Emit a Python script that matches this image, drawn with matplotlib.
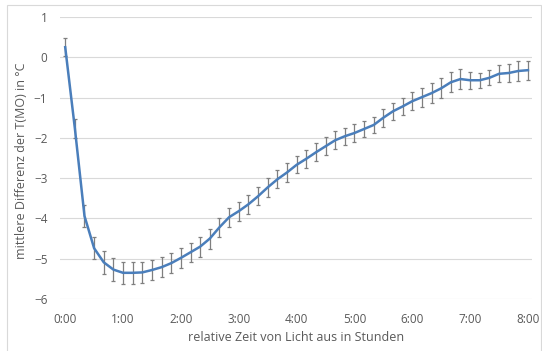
import numpy as np
import matplotlib.pyplot as plt
from matplotlib.patches import Rectangle

# Zeit in Minuten nach Licht aus (alle 10 min)
minutes = list(range(0, 490, 10))

# mittlere Differenz T(MO) in °C
diff = [0.25, -1.76, -3.94, -4.74, -5.09, -5.27, -5.35, -5.35, -5.34, -5.28,
        -5.21, -5.11, -4.98, -4.84, -4.70, -4.50, -4.22, -3.97, -3.82, -3.65,
        -3.45, -3.23, -3.03, -2.86, -2.67, -2.52, -2.36, -2.21, -2.06, -1.96,
        -1.88, -1.78, -1.68, -1.50, -1.34, -1.22, -1.09, -0.99, -0.89, -0.77,
        -0.62, -0.54, -0.57, -0.57, -0.51, -0.41, -0.39, -0.34, -0.32]

# Fehlerbalken (+/-)
err = [0.23, 0.24, 0.27, 0.27, 0.28, 0.28, 0.27, 0.27, 0.26, 0.25,
       0.25, 0.25, 0.24, 0.24, 0.25, 0.25, 0.24, 0.24, 0.24, 0.23,
       0.22, 0.23, 0.22, 0.23, 0.21, 0.23, 0.22, 0.22, 0.22, 0.21,
       0.22, 0.21, 0.21, 0.22, 0.21, 0.21, 0.22, 0.24, 0.24, 0.25,
       0.25, 0.24, 0.21, 0.19, 0.19, 0.21, 0.23, 0.25, 0.24]

hour_ticks = [0, 1, 2, 3, 4, 5, 6, 7, 8]
hour_labels = ['0:00', '1:00', '2:00', '3:00', '4:00', '5:00', '6:00', '7:00', '8:00']
y_ticks = [1, 0, -1, -2, -3, -4, -5, -6]

plt.rcParams['font.family'] = ['Open Sans', 'DejaVu Sans']

hours = np.array(minutes) / 60.0

fig = plt.figure(figsize=(5.42, 3.51), dpi=100)
ax = fig.add_axes([60 / 542, 1 - 299 / 351, 472 / 542, 282 / 351])

ax.errorbar(hours, diff, yerr=err, fmt='none', ecolor='#7f7f7f',
            elinewidth=0.9, capsize=1.6, capthick=0.9, zorder=2)
ax.plot(hours, diff, color='#4a7ebb', linewidth=1.8, zorder=3)

ax.set_xlim(-0.09, 8.07)
ax.set_ylim(-6, 1)
ax.set_xticks(hour_ticks)
ax.set_xticklabels(hour_labels)
ax.set_yticks(y_ticks)
ax.grid(True, axis='y', color='#d9d9d9', linewidth=0.8)
ax.set_axisbelow(True)
for s in ax.spines.values():
    s.set_visible(False)
ax.tick_params(length=0, labelsize=8.5, labelcolor='#595959')
ax.tick_params(axis='x', pad=10)
ax.tick_params(axis='y', pad=9)

ax.set_xlabel('relative Zeit von Licht aus in Stunden', fontsize=9, color='#595959', labelpad=4)
ax.set_ylabel('mittlere Differenz der T(MO) in °C', fontsize=9, color='#595959')
ax.yaxis.set_label_coords(-0.068, 0.49)

fig.patches.append(Rectangle((7 / 542, -0.01), 534 / 542, 1 - 5 / 351 + 0.01,
                             transform=fig.transFigure, fill=False,
                             edgecolor='#d9d9d9', linewidth=0.8))

fig.savefig('out.png', dpi=100)
